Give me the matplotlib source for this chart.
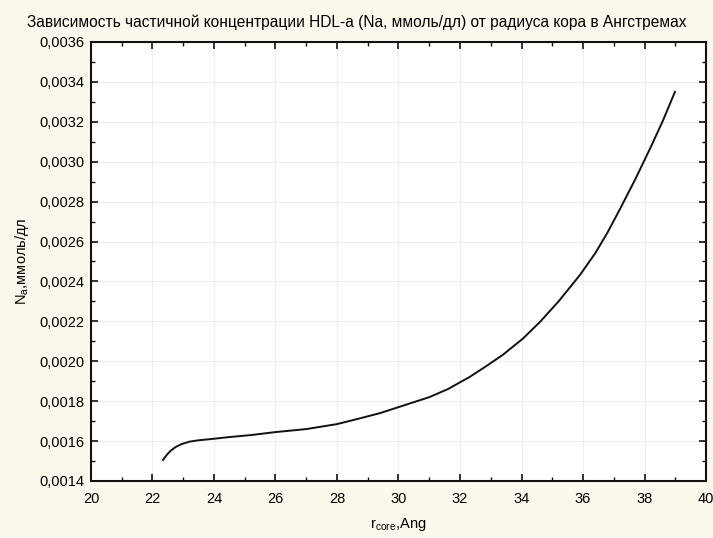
import matplotlib

matplotlib.use("Agg")
import matplotlib.pyplot as plt
from matplotlib.ticker import FuncFormatter, MultipleLocator

# values
r_core = [22.34, 22.45, 22.58, 22.75, 22.95, 23.2, 23.5, 23.9, 24.5, 25.2, 26.0,
          27.0, 28.0, 28.7, 29.4, 30.2, 31.0, 31.6, 32.3, 32.8, 33.4, 34.05,
          34.6, 35.2, 35.9, 36.4, 36.8, 37.2, 37.7, 38.2, 38.6, 38.99]
n_a = [0.001505, 0.001528, 0.00155, 0.00157, 0.001585, 0.001597, 0.001604, 0.00161,
       0.00162, 0.00163, 0.001645, 0.00166, 0.001685, 0.001712, 0.00174, 0.00178,
       0.00182, 0.00186, 0.00192, 0.00197, 0.002033, 0.002114,
       0.002197, 0.002299, 0.002432, 0.002542, 0.002646, 0.002762, 0.002912, 0.003072,
       0.003206, 0.00335]

TITLE = "Зависимость частичной концентрации HDL-a (Na, ммоль/дл) от радиуса кора в Ангстремах"

plt.rcParams["font.family"] = ["Liberation Sans", "DejaVu Sans"]

fig = plt.figure(figsize=(7.13, 5.38), dpi=100, facecolor="#fcf8ec")
ax = fig.add_axes([0.1276, 0.106, 0.8626, 0.816])
ax.set_facecolor("white")

ax.plot(r_core, n_a, color="#111111", linewidth=1.4, solid_joinstyle="round")

ax.set_xlim(20, 40)
ax.set_ylim(0.0014, 0.0036)
ax.xaxis.set_major_locator(MultipleLocator(2))
ax.xaxis.set_minor_locator(MultipleLocator(1))
ax.yaxis.set_major_locator(MultipleLocator(0.0002))
ax.yaxis.set_minor_locator(MultipleLocator(0.0001))
ax.yaxis.set_major_formatter(FuncFormatter(lambda v, p: f"{v:.4f}".replace(".", ",")))
ax.xaxis.set_major_formatter(FuncFormatter(lambda v, p: f"{v:.0f}"))

ax.grid(True, which="major", color="#eeeeee", linewidth=0.8)
ax.set_axisbelow(True)
ax.tick_params(which="both", direction="in", top=True, right=True, color="#111111",
               labelsize=10.5)
ax.tick_params(axis="x", pad=8)
ax.tick_params(axis="y", pad=5)
ax.tick_params(which="major", length=5, width=1.2)
ax.tick_params(which="minor", length=3, width=1.0)
for s in ax.spines.values():
    s.set_linewidth(1.5)
    s.set_color("#111111")

ax.set_xlabel(r"r$_{\mathregular{core}}$,Ang", fontsize=10.5, labelpad=7)
ax.set_ylabel(r"N$_{\mathregular{a}}$,ммоль/дл", fontsize=10.5, labelpad=6)
fig.text(0.5, 0.958, TITLE, ha="center", va="center", fontsize=11.2)

fig.savefig("out.png", dpi=100, facecolor=fig.get_facecolor())
